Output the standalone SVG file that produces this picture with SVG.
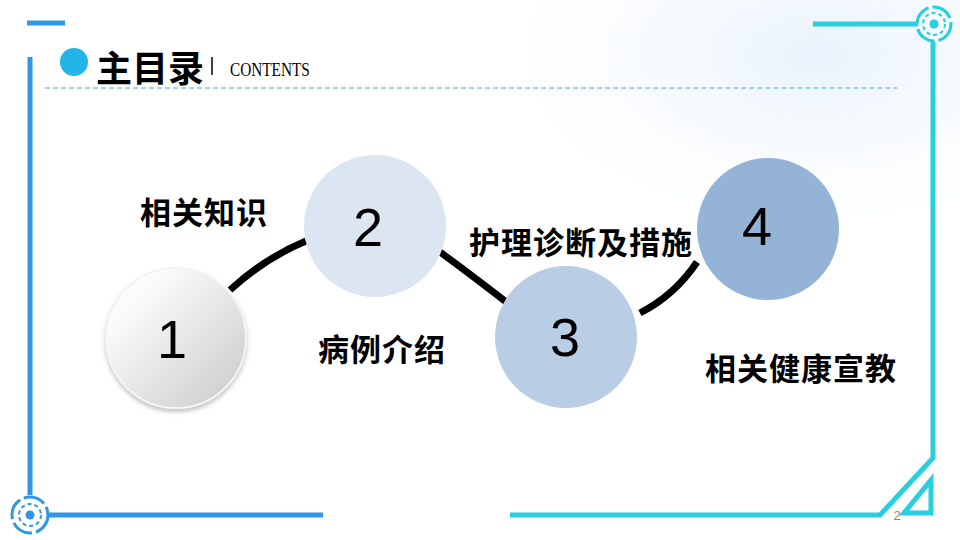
<svg xmlns="http://www.w3.org/2000/svg" width="960" height="540" viewBox="0 0 960 540">
<defs>
<style>
.cn{font-family:"Liberation Sans","Noto Sans CJK SC",sans-serif;font-weight:bold;fill:#000}
.lb{font-size:31px;letter-spacing:1px}
.num{font-family:"Liberation Sans",Arial,sans-serif;font-size:54px;fill:#000;text-anchor:middle}
.fr{fill:none;stroke-width:5}
</style>
<linearGradient id="top" x1="0" x2="1"><stop offset="0" stop-color="#2f97e6"/><stop offset="1" stop-color="#27cfe0"/></linearGradient>
<radialGradient id="bg" cx="0.85" cy="0.1" r="0.4"><stop offset="0" stop-color="#e8f2fc"/><stop offset="1" stop-color="#fff" stop-opacity="0"/></radialGradient>
<linearGradient id="g1" x1="0.2" y1="0.2" x2="0.9" y2="0.9"><stop offset="0" stop-color="#fcfcfc"/><stop offset="1" stop-color="#cfcfcf"/></linearGradient>
<filter id="sh" x="-20%" y="-20%" width="140%" height="140%"><feDropShadow dx="0" dy="3" stdDeviation="2" flood-color="#888" flood-opacity="0.5"/></filter>
</defs>
<rect width="960" height="540" fill="#fff"/>
<rect width="960" height="540" fill="url(#bg)"/>
<g id="frame">
<line x1="27" y1="23" x2="65" y2="23" stroke="#2f97e6" class="fr"/>
<line x1="120" y1="23" x2="750" y2="23" stroke="url(#top)" class="fr"/>
<line x1="813" y1="24" x2="918" y2="24" stroke="#27cfe0" class="fr"/>
<circle cx="934" cy="24" r="17" fill="none" stroke="#27cfe0" stroke-width="3" stroke-dasharray="22 4"/>
<circle cx="934" cy="24" r="11" fill="none" stroke="#27cfe0" stroke-width="2" stroke-dasharray="4 3"/>
<circle cx="934" cy="24" r="4.5" fill="#27cfe0"/>
<polyline points="933,42 933,458 880,515 510,515" stroke="#27cfe0" class="fr" fill="none"/>
<polygon points="931,480 931,513 904,513" stroke="#27cfe0" stroke-width="5" fill="none"/>
<line x1="30" y1="57" x2="30" y2="495" stroke="#2f97e6" class="fr"/>
<circle cx="30" cy="515" r="18" fill="none" stroke="#2f97e6" stroke-width="3" stroke-dasharray="22 4"/>
<circle cx="30" cy="515" r="11" fill="none" stroke="#2f97e6" stroke-width="2" stroke-dasharray="4 3"/>
<circle cx="30" cy="515" r="4.5" fill="#2f97e6"/>
<line x1="48" y1="515" x2="323" y2="515" stroke="#2f97e6" class="fr"/>
<text x="897" y="520" font-family="Liberation Sans,sans-serif" font-size="13" fill="#888" text-anchor="middle">2</text>
</g>
<g id="title">
<circle cx="74" cy="62" r="14" fill="#23b5e8"/>
<text x="96" y="82" class="cn" font-size="36">主目录</text>
<line x1="212" y1="57" x2="212" y2="75" stroke="#000" stroke-width="1.5"/>
<text x="230" y="76" font-family="Liberation Serif,serif" font-size="18" fill="#000" transform="translate(230 76) scale(0.85 1) translate(-230 -76)">CONTENTS</text>
<line x1="45" y1="88" x2="897" y2="88" stroke="#3fb0cc" stroke-width="1" stroke-dasharray="5 3"/>
</g>
<g id="connectors" fill="none" stroke="#000" stroke-width="7">
<path d="M230,290 Q265,258 306,241"/>
<path d="M440,252 Q478,280 510,305"/>
<path d="M640,313 Q675,295 697,262"/>
</g>
<g id="node1"><circle cx="176" cy="338" r="70" fill="url(#g1)" stroke="#f4f4f4" stroke-width="2" filter="url(#sh)"/><text x="172" y="358" class="num">1</text></g>
<g id="node2"><circle cx="375" cy="226" r="71" fill="#dce6f2"/><text x="368" y="246" class="num">2</text></g>
<g id="node3"><circle cx="566" cy="337" r="71" fill="#b9cde5"/><text x="565" y="356" class="num">3</text></g>
<g id="node4"><circle cx="768" cy="229" r="71" fill="#95b3d7"/><text x="757" y="245" class="num">4</text></g>
<g id="labels">
<text x="140" y="224" class="cn lb">相关知识</text>
<text x="318" y="361" class="cn lb">病例介绍</text>
<text x="469" y="254" class="cn lb">护理诊断及措施</text>
<text x="705" y="380" class="cn lb">相关健康宣教</text>
</g>
</svg>
